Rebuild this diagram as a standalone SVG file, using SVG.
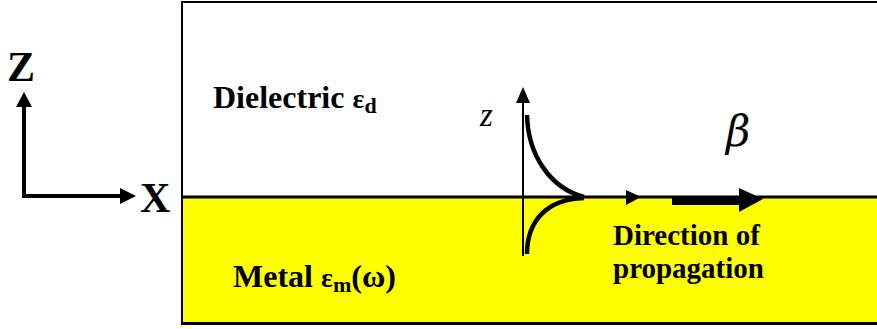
<svg xmlns="http://www.w3.org/2000/svg" width="877" height="329" viewBox="0 0 877 329">
  <style>
    .lbl { font-family: "Liberation Serif", "Times New Roman", serif; font-weight: bold; fill: #000; }
    .ital { font-family: "Liberation Serif", "Times New Roman", serif; font-style: italic; fill: #000; }
    .thick { stroke: #000; stroke-width: 4.5; fill: none; }
  </style>
  <rect width="877" height="329" fill="#fff"/>
  <g id="media">
    <rect x="182" y="197" width="696" height="126" fill="#ffff00"/>
    <path d="M182,325 V2 H878" fill="none" stroke="#000" stroke-width="2"/>
    <line x1="181" y1="323.5" x2="877" y2="323.5" stroke="#000" stroke-width="3"/>
    <line x1="181" y1="197" x2="877" y2="197" stroke="#000" stroke-width="3"/>
  </g>
  <g id="axes">
    <path d="M24,106 V196 H121" fill="none" stroke="#000" stroke-width="4"/>
    <polygon points="24,92 16,107 32,107" fill="#000"/>
    <polygon points="136,196 120,188 120,204" fill="#000"/>
    <text class="lbl" x="7" y="81" font-size="42">Z</text>
    <text class="lbl" x="140" y="212" font-size="42">X</text>
  </g>
  <g id="dielectric">
    <text class="lbl" x="213" y="108" font-size="32">Dielectric <tspan font-size="28">ε</tspan><tspan font-size="22" dy="5">d</tspan></text>
  </g>
  <g id="metal">
    <text class="lbl" x="233" y="287" font-size="32">Metal <tspan font-size="28">ε</tspan><tspan font-size="22" dy="5">m</tspan><tspan dy="-5">(ω)</tspan></text>
  </g>
  <g id="wave">
    <line x1="523" y1="256" x2="523" y2="100" stroke="#000" stroke-width="2"/>
    <polygon points="523,87 516,103 530,103" fill="#000"/>
    <text class="ital" x="480" y="126" font-size="33">z</text>
    <path d="M527,115 C528,155 550,188 584,197" class="thick"/>
    <path d="M527,254 C527,222 546,199 584,198" class="thick"/>
    <polygon points="641,197 626,190 626,205" fill="#000"/>
  </g>
  <g id="beta">
    <rect x="672" y="196" width="70" height="9" fill="#000"/>
    <polygon points="763,199 739,188 739,212" fill="#000"/>
    <text x="726" y="146" font-size="42" font-family="'DejaVu Serif', serif" font-style="italic" font-weight="normal">β</text>
  </g>
  <g id="direction">
    <text class="lbl" x="613" y="245" font-size="29">Direction of</text>
    <text class="lbl" x="613" y="278" font-size="29">propagation</text>
  </g>
</svg>
